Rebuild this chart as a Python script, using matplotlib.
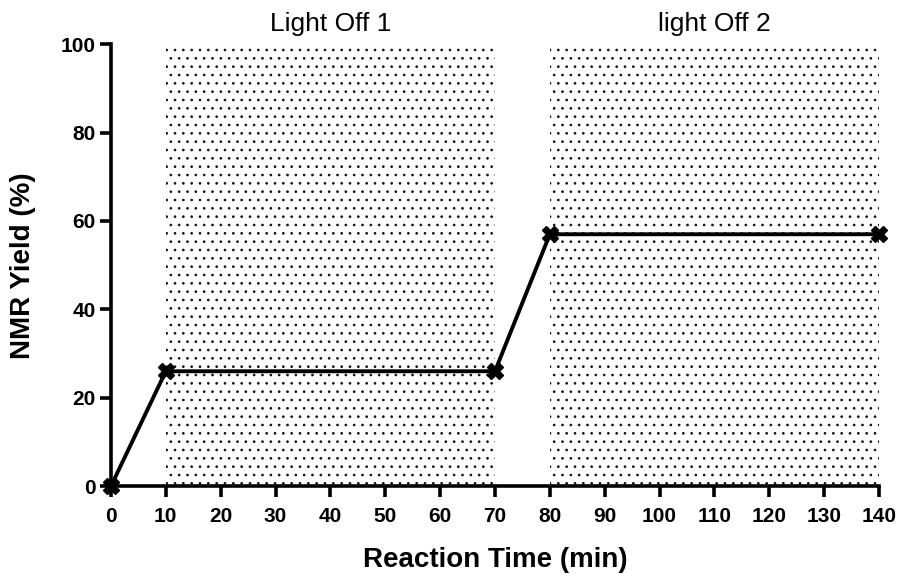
import matplotlib
matplotlib.use("Agg")
import matplotlib.pyplot as plt

time_min = [0, 10, 70, 80, 140]
nmr_yield = [0, 26, 26, 57, 57]
dark_periods = [(10, 70), (80, 140)]
dark_labels = ["Light Off 1", "light Off 2"]
x_ticks = list(range(0, 141, 10))
y_ticks = [0, 20, 40, 60, 80, 100]

plt.rcParams['font.family'] = ['Liberation Sans', 'DejaVu Sans']
plt.rcParams['hatch.linewidth'] = 0.7

fig = plt.figure(figsize=(9.02, 5.74), dpi=100)
ax = fig.add_axes([0.123, 0.153, 0.8515, 0.770])

for (x0, x1), lab in zip(dark_periods, dark_labels):
    ax.fill_between([x0, x1], 0, 100, facecolor='white', edgecolor='#111111',
                    hatch='..', linewidth=0, zorder=1)
    ax.text((x0 + x1) / 2, 101.8, lab, ha='center', va='bottom', fontsize=19)

ax.plot(time_min, nmr_yield, color='black', lw=2.8, marker='X', ms=11,
        mec='black', mfc='black', zorder=3, clip_on=False)

ax.set_xlim(0, 140)
ax.set_ylim(0, 100)
ax.set_xticks(x_ticks)
ax.set_yticks(y_ticks)
for s in ['top', 'right']:
    ax.spines[s].set_visible(False)
for s in ['left', 'bottom']:
    ax.spines[s].set_linewidth(2.6)
ax.tick_params(axis='both', which='major', width=2.6, length=8, labelsize=15)
ax.tick_params(axis='x', pad=7)
ax.tick_params(axis='y', pad=3)
for lbl in ax.get_xticklabels() + ax.get_yticklabels():
    lbl.set_fontweight('bold')
ax.set_xlabel('Reaction Time (min)', fontsize=20, fontweight='bold', labelpad=15)
ax.set_ylabel('NMR Yield (%)', fontsize=20, fontweight='bold', labelpad=18)

fig.savefig('out.png', dpi=100)
